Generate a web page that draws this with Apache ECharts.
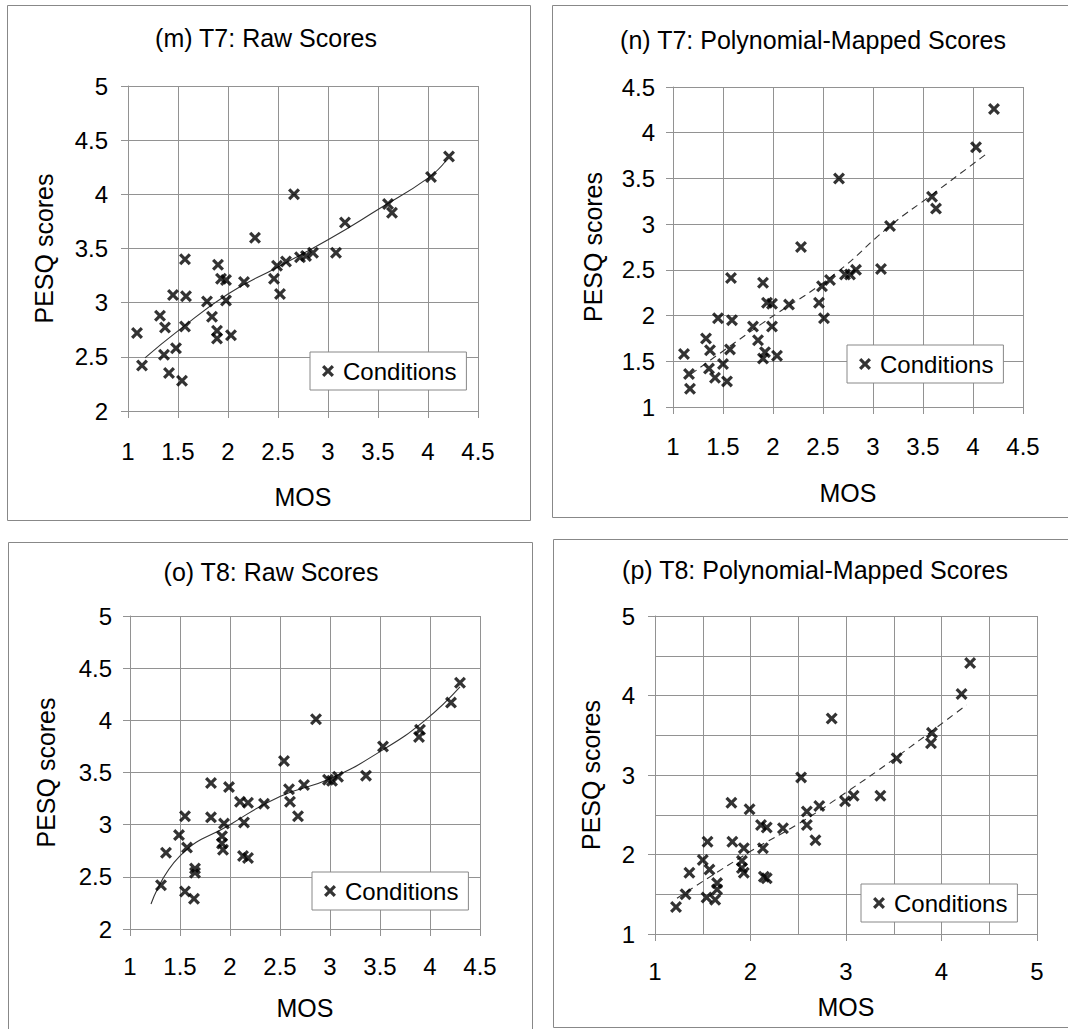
<!DOCTYPE html>
<html>
<head>
<meta charset="utf-8">
<script src="https://cdn.jsdelivr.net/npm/echarts@6/dist/echarts.min.js"></script>
<style>
html,body{margin:0;padding:0;background:#fff;}
#chart{width:1068px;height:1029px;}
</style>
</head>
<body>
<div id="chart"></div>
<script>
// ---- Data ----
// (m) T7 raw scores
const t7RawMos  = [1.09,1.14,1.32,1.37,1.36,1.41,1.48,1.45,1.54,1.57,1.58,1.57,1.79,1.84,1.90,1.93,1.89,1.89,1.98,1.98,2.03,2.16,2.27,2.46,2.52,2.49,2.58,2.66,2.72,2.78,2.85,3.08,3.17,3.60,3.64,4.03,4.21];
const t7RawPesq = [2.72,2.42,2.88,2.77,2.52,2.35,2.58,3.07,2.28,2.78,3.06,3.40,3.01,2.87,3.35,3.22,2.74,2.67,3.21,3.02,2.70,3.19,3.60,3.22,3.08,3.34,3.38,4.00,3.42,3.43,3.46,3.46,3.74,3.91,3.83,4.16,4.35];
const t7RawFitMos  = [1.17,1.5,2.0,2.5,3.0,3.5,4.0,4.18];
const t7RawFitPesq = [2.49,2.74,3.08,3.33,3.58,3.86,4.15,4.31];

// (n) T7 polynomial-mapped scores
const t7MapMos  = [1.11,1.16,1.17,1.33,1.37,1.36,1.42,1.45,1.50,1.54,1.57,1.59,1.58,1.80,1.85,1.90,1.92,1.90,1.94,1.99,1.99,2.04,2.16,2.28,2.46,2.49,2.51,2.57,2.66,2.72,2.77,2.83,3.08,3.17,3.59,3.63,4.03,4.21];
const t7MapPesq = [1.58,1.36,1.20,1.75,1.62,1.42,1.32,1.97,1.47,1.28,1.63,1.95,2.41,1.88,1.73,2.36,1.60,1.53,2.14,2.13,1.88,1.56,2.12,2.75,2.14,2.32,1.97,2.39,3.50,2.45,2.45,2.50,2.51,2.98,3.30,3.17,3.84,4.26];
const t7MapFitMos  = [1.18,1.9,2.6,3.17,3.6,4.16];
const t7MapFitPesq = [1.36,1.92,2.44,2.98,3.33,3.79];

// (o) T8 raw scores
const t8RawMos  = [1.31,1.36,1.49,1.55,1.57,1.55,1.65,1.65,1.64,1.81,1.81,1.92,1.92,1.93,1.94,1.99,2.10,2.14,2.18,2.13,2.18,2.34,2.54,2.59,2.60,2.68,2.74,2.86,2.98,3.02,3.08,3.36,3.53,3.89,3.90,4.21,4.30];
const t8RawPesq = [2.42,2.73,2.90,2.36,2.78,3.08,2.58,2.54,2.29,3.40,3.07,2.89,2.82,2.76,3.01,3.36,3.22,3.02,3.21,2.70,2.68,3.20,3.61,3.34,3.22,3.08,3.38,4.01,3.43,3.42,3.46,3.47,3.75,3.84,3.91,4.17,4.36];
const t8RawFitMos  = [1.21,1.5,2.0,2.5,3.0,3.5,3.95,4.30];
const t8RawFitPesq = [2.24,2.70,3.00,3.27,3.44,3.70,4.00,4.32];

// (p) T8 polynomial-mapped scores
const t8MapMos  = [1.22,1.32,1.36,1.50,1.55,1.57,1.54,1.63,1.65,1.65,1.80,1.81,1.91,1.91,1.93,1.93,1.99,2.11,2.13,2.14,2.17,2.17,2.34,2.53,2.59,2.59,2.68,2.72,2.85,2.99,3.08,3.36,3.53,3.89,3.90,4.21,4.30];
const t8MapPesq = [1.34,1.50,1.77,1.93,2.16,1.81,1.46,1.43,1.56,1.64,2.65,2.16,1.92,1.83,1.77,2.08,2.57,2.37,2.08,1.72,1.70,2.34,2.33,2.97,2.54,2.37,2.18,2.61,3.71,2.67,2.74,2.74,3.21,3.40,3.53,4.02,4.41];
const t8MapFitMos  = [1.23,2.0,2.52,3.0,3.5,4.26];
const t8MapFitPesq = [1.45,2.04,2.40,2.78,3.20,3.88];

const panelTitles = ['(m) T7: Raw Scores','(n) T7: Polynomial-Mapped Scores','(o) T8: Raw Scores','(p) T8: Polynomial-Mapped Scores'];
const xName = 'MOS';
const yName = 'PESQ scores';
const legendName = 'Conditions';

// ---- Styling / layout ----
const FONT = '"Liberation Sans", Arial, Helvetica, sans-serif';
const GRID = '#929292';
const CROSS = 'path://M0,1.9 L1.9,0 L5,3.1 L8.1,0 L10,1.9 L6.9,5 L10,8.1 L8.1,10 L5,6.9 L1.9,10 L0,8.1 L3.1,5 Z';

const zip = (a, b) => a.map((v, i) => [v, b[i]]);

const grids = [
  {left:128, top:86,  width:350, height:325},
  {left:673, top:87,  width:350, height:320},
  {left:130, top:616, width:350, height:313},
  {left:655, top:616, width:382, height:318}
];

function xAx(i, min, max, interval, labelMargin, nameGap, minor) {
  return {
    type:'value', gridIndex:i, min:min, max:max, interval:interval,
    name:xName, nameLocation:'middle', nameGap:nameGap,
    nameTextStyle:{fontFamily:FONT, fontSize:25, color:'#000'},
    axisLine:{show:true, lineStyle:{color:GRID, width:1}},
    axisTick:{show:true, length:7, lineStyle:{color:GRID}},
    axisLabel:{fontFamily:FONT, fontSize:24, color:'#000', margin:labelMargin},
    splitLine:{show:true, lineStyle:{color:GRID, width:1}},
    minorTick:{show:false, splitNumber:2},
    minorSplitLine:{show:!!minor, lineStyle:{color:GRID, width:1}}
  };
}
function yAx(i, min, max, interval, labelMargin, nameGap, minor) {
  return {
    type:'value', gridIndex:i, min:min, max:max, interval:interval,
    name:yName, nameLocation:'middle', nameGap:nameGap,
    nameTextStyle:{fontFamily:FONT, fontSize:25, color:'#000'},
    axisLine:{show:true, lineStyle:{color:GRID, width:1}},
    axisTick:{show:true, length:7, lineStyle:{color:GRID}},
    axisLabel:{fontFamily:FONT, fontSize:24, color:'#000', margin:labelMargin},
    splitLine:{show:true, lineStyle:{color:GRID, width:1}},
    minorTick:{show:false, splitNumber:2},
    minorSplitLine:{show:!!minor, lineStyle:{color:GRID, width:1}}
  };
}

function scatter(i, xs, ys) {
  return {
    type:'scatter', name:legendName, xAxisIndex:i, yAxisIndex:i,
    data:zip(xs, ys), symbol:CROSS, symbolSize:12,
    itemStyle:{color:'#000'}, silent:true, z:3
  };
}
function fit(i, xs, ys, dashed) {
  return {
    type:'line', name:'fit'+i, xAxisIndex:i, yAxisIndex:i,
    data:zip(xs, ys), smooth:true, showSymbol:false, symbol:'none',
    lineStyle:{color:'#333', width:1.1, type: dashed ? [7,5] : 'solid'},
    silent:true, z:2
  };
}

function legendAt(left, top) {
  return {
    data:[{name:legendName, icon:CROSS}], left:left, top:top,
    orient:'horizontal', selectedMode:false,
    itemWidth:12, itemHeight:12, itemGap:0,
    padding:[7,10,7,12], backgroundColor:'#fff',
    borderColor:'#888', borderWidth:1, borderRadius:0,
    textStyle:{fontFamily:FONT, fontSize:24, color:'#000', padding:[0,0,0,4]}
  };
}

const frames = [
  {x:7, y:5, w:523, h:515},
  {x:552, y:5, w:530, h:512},
  {x:8, y:542, w:524, h:500},
  {x:553, y:539, w:530, h:488}
];
const titlePos = [[266,38],[813,40],[271,572],[815,570]];

const graphic = [];
frames.forEach(f => graphic.push({
  type:'rect', shape:{x:f.x+0.5, y:f.y+0.5, width:f.w, height:f.h},
  style:{fill:'none', stroke:'#888', lineWidth:1}, silent:true, z:0
}));
panelTitles.forEach((t, i) => graphic.push({
  type:'text', x:titlePos[i][0], y:titlePos[i][1],
  style:{text:t, fontFamily:FONT, fontSize:25, fill:'#000', textAlign:'center', textVerticalAlign:'middle'},
  silent:true, z:10
}));

const option = {
  backgroundColor:'#fff',
  animation:false,
  grid:grids,
  xAxis:[
    xAx(0, 1, 4.5, 0.5, 28, 73),
    xAx(1, 1, 4.5, 0.5, 27, 73),
    xAx(2, 1, 4.5, 0.5, 25, 66),
    xAx(3, 1, 5, 1, 25, 60, true)
  ],
  yAxis:[
    yAx(0, 2, 5, 0.5, 20, 72),
    yAx(1, 1, 4.5, 0.5, 18, 68),
    yAx(2, 2, 5, 0.5, 18, 72),
    yAx(3, 1, 5, 1, 20, 52, true)
  ],
  legend:[
    legendAt(310, 352),
    legendAt(847, 345),
    legendAt(312, 872),
    legendAt(861, 884)
  ],
  graphic:graphic,
  series:[
    fit(0, t7RawFitMos, t7RawFitPesq, false),
    scatter(0, t7RawMos, t7RawPesq),
    fit(1, t7MapFitMos, t7MapFitPesq, true),
    scatter(1, t7MapMos, t7MapPesq),
    fit(2, t8RawFitMos, t8RawFitPesq, false),
    scatter(2, t8RawMos, t8RawPesq),
    fit(3, t8MapFitMos, t8MapFitPesq, true),
    scatter(3, t8MapMos, t8MapPesq)
  ]
};

const chart = echarts.init(document.getElementById('chart'), null, {renderer:'svg', width:1068, height:1029});
chart.setOption(option);
</script>
</body>
</html>
